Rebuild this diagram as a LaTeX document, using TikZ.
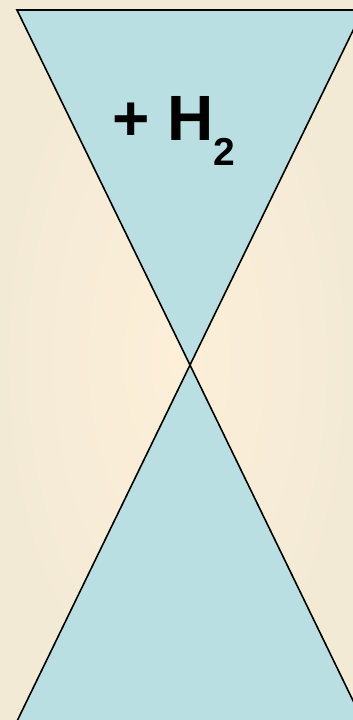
\documentclass[tikz,border=0pt]{standalone}
\usepackage{fontspec}
\setmainfont{Liberation Sans}
\usetikzlibrary{positioning}
\definecolor{paper}{HTML}{FDEFD8}
\definecolor{paperedge}{HTML}{F3EAD6}
\definecolor{glass}{HTML}{B9DFE3}
\definecolor{ink}{HTML}{000000}

\begin{document}
\begin{tikzpicture}[x=0.5pt,y=-0.5pt,
  cone/.style={fill=glass,draw=ink,line width=0.8pt,line join=miter},
  lbl/.style={font=\fontsize{32}{36}\selectfont\bfseries,inner sep=0pt,anchor=base west}]
  \useasboundingbox (0,0) rectangle (353,720);
  \shade[inner color=paper,outer color=paperedge] (0,0) rectangle (353,720);
  \coordinate (apex) at (190,365);
  \coordinate (topl) at (17,10);
  \coordinate (topr) at (363,10);
  \coordinate (botl) at (3,750);
  \coordinate (botr) at (377,750);
  \begin{scope}
    \clip (0,0) rectangle (353,720);
    \draw[cone] (topl) -- (topr) -- (apex) -- cycle;
    \draw[cone] (apex) -- (botr) -- (botl) -- cycle;
  \end{scope}
  \node[lbl] (gas) at (112,140) {+ H\raisebox{-12.5pt}{\fontsize{19.5}{20}\selectfont 2}};
\end{tikzpicture}
\end{document}
